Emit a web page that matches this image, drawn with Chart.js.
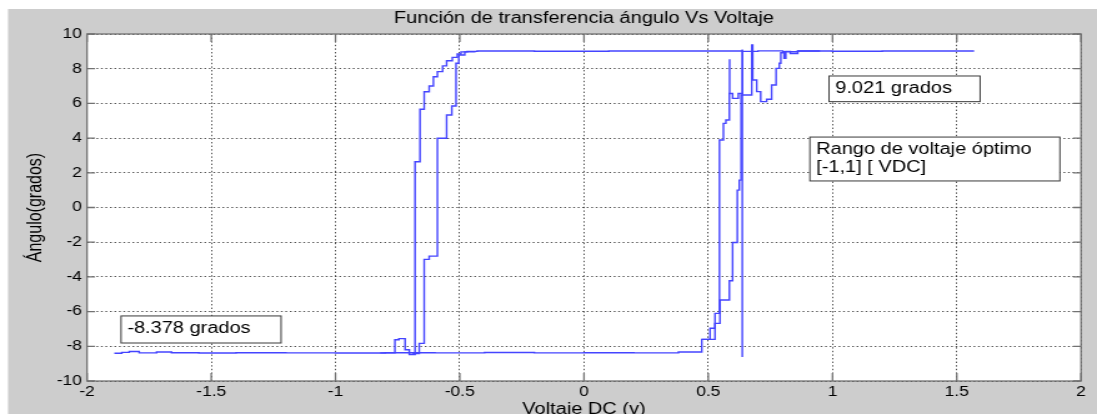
<!DOCTYPE html>
<html>
<head>
<meta charset="utf-8">
<script src="https://cdn.jsdelivr.net/npm/chart.js@4.4.0/dist/chart.umd.min.js"></script>
<style>
  html, body { margin: 0; padding: 0; background: #fff; overflow: hidden; }
  #grafica { display: block; }
</style>
</head>
<body>
<canvas id="grafica" width="878" height="414" style="width:1097px;height:414px"></canvas>
<script>
// --- datos ---
const xTicks = [-2, -1.5, -1, -0.5, 0, 0.5, 1, 1.5, 2];
const yTicks = [-10, -8, -6, -4, -2, 0, 2, 4, 6, 8, 10];

// barrido ascendente: linea inferior, escalones externos derecha, linea superior
const subidaX = [-1.89, -1.86, -1.83, -1.79, -1.72, -1.66, -1.55, -1.40, -1.20, -1.00, -0.80, -0.60, -0.40, -0.20, 0.00, 0.20, 0.38,
                 0.474, 0.507, 0.527, 0.545, 0.561, 0.571, 0.585, 0.598, 0.621, 0.638, 0.70, 0.80, 0.86, 1.00, 1.20, 1.40, 1.57];
const subidaY = [-8.40, -8.35, -8.30, -8.38, -8.33, -8.37, -8.39, -8.37, -8.38, -8.39, -8.37, -8.38, -8.36, -8.38, -8.37, -8.38, -8.33,
                 -7.60, -6.96, -6.10, 3.89, 4.85, 5.04, 6.57, 6.29, 6.57, 9.00, 9.03, 8.98, 9.02, 9.01, 9.02, 9.02, 9.02];

// barrido descendente: escalones externos izquierda
const bajadaX = [-0.82, -0.761, -0.745, -0.720, -0.703, -0.680, -0.660, -0.643, -0.623, -0.606, -0.590, -0.569, -0.553,
                 -0.530, -0.510, -0.495, -0.470, -0.430, -0.20, 0.10, 0.40, 0.64];
const bajadaY = [-8.38, -7.62, -7.56, -8.20, -8.47, 2.64, 5.66, 6.67, 7.00, 7.54, 7.83, 8.16, 8.46,
                 8.65, 8.85, 8.97, 9.00, 9.02, 9.01, 9.02, 9.02, 9.02];

// escalones internos izquierda
const internaIzqX = [-0.690, -0.663, -0.643, -0.623, -0.590, -0.553, -0.532, -0.515, -0.504, -0.480, -0.440];
const internaIzqY = [-8.42, -7.83, -2.99, -2.80, 3.99, 5.33, 5.85, 8.31, 8.79, 8.97, 9.02];

// escalones internos derecha
const internaDerX = [0.474, 0.527, 0.547, 0.585, 0.598, 0.617, 0.625, 0.632, 0.675, 0.679, 0.695, 0.711, 0.735,
                     0.755, 0.773, 0.786, 0.792, 0.805, 0.812, 0.83, 0.86, 0.95];
const internaDerY = [-7.60, -6.68, -5.33, -4.22, -2.02, 1.00, 1.58, 6.48, 9.37, 7.35, 6.68, 6.10, 6.24,
                     7.06, 8.02, 8.31, 8.92, 8.60, 9.00, 8.88, 9.02, 9.02];

// picos sueltos
const pico1X = [0.586, 0.586];
const pico1Y = [6.57, 8.54];
const pico2X = [0.637, 0.637];
const pico2Y = [-8.62, 9.10];

const titulo = 'Función de transferencia ángulo Vs Voltaje';
const tituloX = 'Voltaje DC (v)';
const tituloY = 'Ángulo(grados)';
// ---------------------------------

const fuente = "'Liberation Sans', Arial, Helvetica, sans-serif";
const escalaX = 1097 / 878; // la figura original esta estirada en horizontal
const azul = '#4444ff';

// cuadros de texto (esquinas en unidades de los ejes)
const notas = [
  { lineas: ['9.021 grados'], x0: 0.986, x1: 1.594, y0: 7.58, y1: 6.10 },
  { lineas: ['Rango de voltaje óptimo', '[-1,1] [ VDC]'], x0: 0.909, x1: 1.915, y0: 4.06, y1: 1.53 },
  { lineas: ['-8.378 grados'], x0: -1.863, x1: -1.219, y0: -6.25, y1: -7.81 }
];

const curvas = [
  [subidaX, subidaY],
  [bajadaX, bajadaY],
  [internaIzqX, internaIzqY],
  [internaDerX, internaDerY],
  [pico1X, pico1Y],
  [pico2X, pico2Y]
];

const figura = {
  id: 'figura',
  beforeDraw(chart) {
    const { ctx, chartArea: a } = chart;
    ctx.save();
    ctx.fillStyle = '#cdcdcd';
    ctx.fillRect(8 / escalaX, 9, chart.width, chart.height);
    ctx.fillStyle = '#fff';
    ctx.fillRect(a.left, a.top, a.right - a.left, a.bottom - a.top);
    ctx.restore();
  },
  afterDraw(chart) {
    const { ctx, chartArea: a, scales: { x, y } } = chart;
    ctx.save();

    // marco y marcas hacia dentro
    ctx.strokeStyle = '#727272';
    ctx.lineWidth = 1.3;
    ctx.strokeRect(a.left, a.top, a.right - a.left, a.bottom - a.top);
    ctx.beginPath();
    xTicks.forEach(v => {
      const px = x.getPixelForValue(v);
      ctx.moveTo(px, a.bottom); ctx.lineTo(px, a.bottom - 8);
      ctx.moveTo(px, a.top); ctx.lineTo(px, a.top + 8);
    });
    yTicks.forEach(v => {
      const py = y.getPixelForValue(v);
      ctx.moveTo(a.left, py); ctx.lineTo(a.left + 6.4, py);
      ctx.moveTo(a.right, py); ctx.lineTo(a.right - 6.4, py);
    });
    ctx.stroke();

    // cuadros de texto
    ctx.font = `16px ${fuente}`;
    ctx.textBaseline = 'alphabetic';
    ctx.textAlign = 'left';
    notas.forEach(n => {
      const l = x.getPixelForValue(n.x0), r = x.getPixelForValue(n.x1);
      const t = y.getPixelForValue(n.y0), b = y.getPixelForValue(n.y1);
      ctx.fillStyle = '#fff';
      ctx.fillRect(l, t, r - l, b - t);
      ctx.strokeStyle = '#3a3a3a';
      ctx.lineWidth = 1;
      ctx.strokeRect(l, t, r - l, b - t);
      ctx.fillStyle = '#000';
      n.lineas.forEach((s, i) => ctx.fillText(s, l + 5, t + 17 + i * 18.4));
    });

    // titulos
    ctx.fillStyle = '#000';
    ctx.textAlign = 'center';
    const cx = (a.left + a.right) / 2;
    ctx.fillText(titulo, cx, 23);
    ctx.fillText(tituloX, cx, 414);
    ctx.translate(36 / escalaX, (a.top + a.bottom) / 2);
    ctx.rotate(-Math.PI / 2);
    ctx.textBaseline = 'middle';
    ctx.fillText(tituloY, 0, 0);
    ctx.restore();
  }
};

const ejeComun = {
  type: 'linear',
  grid: { color: 'rgba(40, 40, 40, 0.8)', lineWidth: 1, drawTicks: false },
  border: { display: false, dash: [1.4, 2.2] },
  ticks: {
    font: { family: fuente, size: 14 },
    color: '#000',
    autoSkip: false,
    maxRotation: 0,
    callback: v => String(v)
  }
};

const ctx = document.getElementById('grafica').getContext('2d');
new Chart(ctx, {
  type: 'scatter',
  data: {
    datasets: curvas.map(([xs, ys]) => ({
      data: xs.map((v, i) => ({ x: v, y: ys[i] })),
      showLine: true,
      stepped: true,
      borderColor: azul,
      borderWidth: 1.4,
      pointRadius: 0,
      fill: false
    }))
  },
  options: {
    responsive: false,
    animation: false,
    devicePixelRatio: 1,
    layout: { padding: { left: 0, top: 34, right: 878 - 1081 / escalaX, bottom: 0 } },
    plugins: { legend: { display: false }, tooltip: { enabled: false } },
    scales: {
      x: {
        ...ejeComun,
        min: -2, max: 2,
        afterBuildTicks: s => { s.ticks = xTicks.map(v => ({ value: v })); },
        afterFit: s => { s.height = 33; },
        ticks: { ...ejeComun.ticks, padding: 3 }
      },
      y: {
        ...ejeComun,
        min: -10, max: 10,
        afterBuildTicks: s => { s.ticks = yTicks.map(v => ({ value: v })); },
        afterFit: s => { s.width = 87 / escalaX; },
        ticks: { ...ejeComun.ticks, padding: 4 }
      }
    }
  },
  plugins: [figura]
});
</script>
</body>
</html>
